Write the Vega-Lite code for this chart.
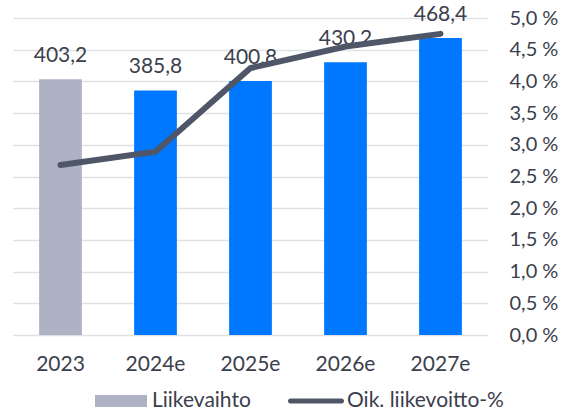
{
  "$schema": "https://vega.github.io/schema/vega-lite/v6.json",
  "width": 475,
  "height": 317,
  "autosize": {"type": "none"},
  "padding": {"left": 13, "top": 18, "right": 74, "bottom": 76},
  "background": "white",
  "config": {
    "locale": {"number": {"decimal": ",", "thousands": " ", "grouping": [3], "currency": ["", " €"]}},
    "font": "Lato",
    "view": {"stroke": null},
    "axis": {"labelFont": "Lato", "labelColor": "#3b404c", "labelFontSize": 20}
  },
  "data": {
    "values": [
      {"year": "2023", "rev": 403.2, "pct": 2.68, "type": "Liikevaihto"},
      {"year": "2024e", "rev": 385.8, "pct": 2.89, "type": "Ennuste"},
      {"year": "2025e", "rev": 400.8, "pct": 4.21, "type": "Ennuste"},
      {"year": "2026e", "rev": 430.2, "pct": 4.55, "type": "Ennuste"},
      {"year": "2027e", "rev": 468.4, "pct": 4.75, "type": "Ennuste"}
    ]
  },
  "encoding": {
    "x": {
      "field": "year",
      "type": "nominal",
      "sort": null,
      "title": null,
      "scale": {"paddingInner": 0.55, "paddingOuter": 0.275},
      "axis": {"labelAngle": 0, "ticks": false, "domain": false, "labelPadding": 18, "grid": false, "labelFontSize": 21}
    }
  },
  "layer": [
    {
      "encoding": {
        "y": {"field": "rev", "type": "quantitative", "scale": {"domain": [0, 500], "nice": false}, "axis": null}
      },
      "layer": [
        {
          "mark": {"type": "bar"},
          "encoding": {
            "color": {
              "field": "type",
              "type": "nominal",
              "scale": {"domain": ["Liikevaihto", "Ennuste", "Oik. liikevoitto-%"], "range": ["#adb2c4", "#0077ff", "#4f5668"]},
              "legend": {
                "title": null,
                "values": ["Liikevaihto", "Oik. liikevoitto-%"],
                "orient": "none",
                "legendX": 82,
                "legendY": 357,
                "direction": "horizontal",
                "symbolSize": 2704,
                "labelFontSize": 21,
                "labelFont": "Lato",
                "labelColor": "#3b404c",
                "labelOffset": 5,
                "columnPadding": 36,
                "labelLimit": 300,
                "padding": 0,
                "encode": {
                  "symbols": {
                    "update": {
                      "shape": {"signal": "datum.value === 'Liikevaihto' ? 'M-1,-0.23H1V0.23H-1Z' : 'M-0.98,-0.1H0.98A0.1,0.1 0 0 1 0.98,0.1H-0.98A0.1,0.1 0 0 1 -0.98,-0.1Z'"},
                      "fill": {"signal": "datum.value === 'Liikevaihto' ? '#adb2c4' : '#4f5668'"},
                      "stroke": {"value": "transparent"},
                      "strokeWidth": {"value": 0},
                      "opacity": {"value": 1},
                      "fillOpacity": {"value": 1}
                    }
                  }
                }
              }
            }
          }
        },
        {
          "mark": {"type": "text", "baseline": "alphabetic", "dy": -17, "fontSize": 21, "font": "Lato", "color": "#3b404c"},
          "encoding": {
            "text": {"field": "rev", "type": "quantitative", "format": ".1f"}
          }
        }
      ]
    },
    {
      "mark": {"type": "line", "strokeWidth": 6, "strokeCap": "round"},
      "encoding": {
        "y": {
          "field": "pct",
          "type": "quantitative",
          "scale": {"domain": [0, 5], "nice": false},
          "axis": {
            "orient": "right",
            "title": null,
            "values": [0, 0.5, 1, 1.5, 2, 2.5, 3, 3.5, 4, 4.5, 5],
            "format": ".1f",
            "labelExpr": "datum.label + ' %'",
            "ticks": false,
            "domain": false,
            "grid": true,
            "gridColor": "#e0e1e6",
            "gridWidth": 1.5,
            "labelPadding": 21
          }
        },
        "color": {"datum": "Oik. liikevoitto-%"}
      }
    }
  ],
  "resolve": {"scale": {"y": "independent"}}
}
